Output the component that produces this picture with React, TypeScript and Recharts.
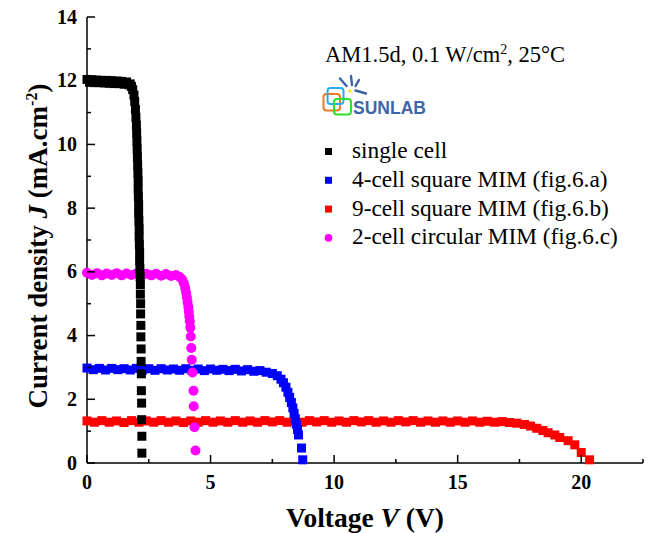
import { Legend, Scatter, ScatterChart, XAxis, YAxis } from 'recharts'

const W = 649
const H = 533
const SERIF = '"Liberation Serif", "Times New Roman", serif'
const SANS = '"Liberation Sans", Arial, sans-serif'

// [V (V), J (mA/cm2)]
const singleCell: [number, number][] = [
  [0, 12.04], [0.1, 11.95], [0.2, 12.03], [0.3, 11.94], [0.4, 12.02], [0.5, 11.94],
  [0.6, 12.01], [0.7, 11.93], [0.8, 12.01], [0.9, 11.92], [1.0, 12.0], [1.1, 11.91],
  [1.2, 11.99], [1.3, 11.91], [1.4, 11.98], [1.5, 11.89], [1.6, 11.96], [1.7, 11.87],
  [1.75, 11.9], [1.8, 11.82], [1.85, 11.72], [1.9, 11.55], [1.93, 11.35], [1.96, 11.1],
  [1.98, 10.85], [2.0, 10.6], [2.01, 10.35], [2.02, 10.1], [2.03, 9.85], [2.04, 9.6],
  [2.05, 9.35], [2.06, 9.1], [2.07, 8.85], [2.07, 8.6], [2.08, 8.35], [2.09, 8.1],
  [2.09, 7.85], [2.1, 7.6], [2.11, 7.35], [2.11, 7.1], [2.12, 6.85], [2.13, 6.6],
  [2.13, 6.35], [2.14, 6.1], [2.15, 5.85], [2.16, 5.6], [2.16, 5.3], [2.17, 5.0],
  [2.17, 4.68], [2.18, 4.32], [2.18, 3.96], [2.19, 3.58], [2.19, 3.19], [2.2, 2.8],
  [2.2, 2.27], [2.21, 1.88], [2.21, 1.36], [2.22, 0.84], [2.22, 0.31],
]

const square4: [number, number][] = [
  [0, 2.98], [0.25, 2.93], [0.5, 2.97], [0.75, 2.92], [1.0, 2.97], [1.25, 2.93],
  [1.5, 2.96], [1.75, 2.92], [2.0, 2.97], [2.25, 2.92], [2.5, 2.96], [2.75, 2.91],
  [3.0, 2.96], [3.25, 2.92], [3.5, 2.95], [3.75, 2.91], [4.0, 2.96], [4.25, 2.91],
  [4.5, 2.95], [4.75, 2.9], [5.0, 2.95], [5.25, 2.91], [5.5, 2.94], [5.75, 2.9],
  [6.0, 2.94], [6.25, 2.89], [6.5, 2.93], [6.75, 2.88], [7.0, 2.9], [7.25, 2.85],
  [7.5, 2.81], [7.7, 2.74], [7.85, 2.63], [7.95, 2.52], [8.05, 2.38], [8.13, 2.22],
  [8.2, 2.06], [8.27, 1.9], [8.33, 1.73], [8.38, 1.56], [8.43, 1.39], [8.47, 1.22],
  [8.52, 1.05], [8.56, 0.88], [8.68, 0.47], [8.73, 0.1],
]

const square9: [number, number][] = [
  [0, 1.32], [0.3, 1.28], [0.6, 1.33], [0.9, 1.28], [1.2, 1.32], [1.5, 1.27],
  [1.8, 1.33], [2.1, 1.28], [2.4, 1.32], [2.7, 1.28], [3.0, 1.33], [3.3, 1.28],
  [3.6, 1.32], [3.9, 1.27], [4.2, 1.32], [4.5, 1.28], [4.8, 1.33], [5.1, 1.28],
  [5.4, 1.32], [5.7, 1.28], [6.0, 1.33], [6.3, 1.28], [6.6, 1.32], [6.9, 1.28],
  [7.2, 1.33], [7.5, 1.29], [7.8, 1.33], [8.1, 1.28], [8.4, 1.32], [8.7, 1.28],
  [9.0, 1.33], [9.3, 1.29], [9.6, 1.33], [9.9, 1.28], [10.2, 1.32], [10.5, 1.28],
  [10.8, 1.33], [11.1, 1.29], [11.4, 1.33], [11.7, 1.28], [12.0, 1.32], [12.3, 1.28],
  [12.6, 1.33], [12.9, 1.29], [13.2, 1.33], [13.5, 1.28], [13.8, 1.32], [14.1, 1.28],
  [14.4, 1.32], [14.7, 1.28], [15.0, 1.32], [15.3, 1.28], [15.6, 1.32], [15.9, 1.28],
  [16.2, 1.31], [16.5, 1.28], [16.8, 1.3], [17.1, 1.27], [17.4, 1.25], [17.7, 1.21],
  [17.95, 1.16], [18.2, 1.09], [18.45, 1.02], [18.66, 0.95], [18.93, 0.88], [19.13, 0.8],
  [19.47, 0.7], [19.74, 0.57], [20.0, 0.33], [20.34, 0.1],
]

const circular2: [number, number][] = [
  [0, 5.97], [0.2, 5.9], [0.4, 5.96], [0.6, 5.89], [0.8, 5.95], [1.0, 5.9],
  [1.2, 5.96], [1.4, 5.89], [1.6, 5.95], [1.8, 5.9], [2.0, 5.95], [2.2, 5.88],
  [2.4, 5.94], [2.6, 5.89], [2.8, 5.94], [3.0, 5.88], [3.2, 5.93], [3.4, 5.87],
  [3.6, 5.9], [3.75, 5.84], [3.85, 5.76], [3.92, 5.64], [3.97, 5.5], [4.01, 5.35],
  [4.04, 5.2], [4.07, 5.05], [4.1, 4.9], [4.12, 4.75], [4.14, 4.6], [4.16, 4.45],
  [4.18, 4.25], [4.2, 3.97], [4.22, 3.61], [4.24, 3.24], [4.27, 2.84], [4.31, 2.27],
  [4.32, 1.78], [4.35, 1.12], [4.39, 0.39],
]

const X_TICKS = [0, 2.5, 5, 7.5, 10, 12.5, 15, 17.5, 20, 22.5]
const X_LABELS = [0, 5, 10, 15, 20]
const Y_TICKS = [0, 1, 2, 3, 4, 5, 6, 7, 8, 9, 10, 11, 12, 13, 14]
const Y_LABELS = [0, 2, 4, 6, 8, 10, 12, 14]

const LEGEND_ORDER = [
  'single cell',
  '4-cell square MIM (fig.6.a)',
  '9-cell square MIM (fig.6.b)',
  '2-cell circular MIM (fig.6.c)',
]

const toPoints = (rows: [number, number][]) => rows.map(([v, j]) => ({ v, j }))

const MAJOR = 8
const MINOR = 4
const AXIS_W = 1.5

function squareShape(size: number) {
  return (props: any) => (
    <rect x={props.cx - size / 2} y={props.cy - size / 2} width={size} height={size} fill={props.fill} />
  )
}

function circleShape(size: number) {
  return (props: any) => <circle cx={props.cx} cy={props.cy} r={size / 2} fill={props.fill} />
}

function BottomTick(props: any) {
  const { x, y, payload } = props
  const major = X_LABELS.includes(payload.value)
  return (
    <g>
      <line x1={x} y1={y} x2={x} y2={y - (major ? MAJOR : MINOR)} stroke="#000" strokeWidth={AXIS_W} />
      {major && (
        <text x={x} y={y + 26} textAnchor="middle" fontFamily={SERIF} fontWeight="bold" fontSize={20} fill="#000">
          {payload.value}
        </text>
      )}
    </g>
  )
}

function TopTick(props: any) {
  const { x, y, payload } = props
  const major = X_LABELS.includes(payload.value)
  return <line x1={x} y1={y} x2={x} y2={y + (major ? MAJOR : MINOR)} stroke="#000" strokeWidth={AXIS_W} />
}

function LeftTick(props: any) {
  const { x, y, payload } = props
  const major = Y_LABELS.includes(payload.value)
  return (
    <g>
      <line x1={x} y1={y} x2={x + (major ? MAJOR : MINOR)} y2={y} stroke="#000" strokeWidth={AXIS_W} />
      {major && (
        <text x={x - 10} y={y + 6.5} textAnchor="end" fontFamily={SERIF} fontWeight="bold" fontSize={20} fill="#000">
          {payload.value}
        </text>
      )}
    </g>
  )
}

function RightTick(props: any) {
  const { x, y, payload } = props
  const major = Y_LABELS.includes(payload.value)
  return <line x1={x} y1={y} x2={x - (major ? MAJOR : MINOR)} y2={y} stroke="#000" strokeWidth={AXIS_W} />
}

function SunlabLogo() {
  return (
    <g>
      <rect x={323.5} y={94} width={16.5} height={16.5} rx={3} fill="none" stroke="#f07a2a" strokeWidth={2} />
      <rect x={327.5} y={88} width={16} height={16} rx={3} fill="none" stroke="#2aaaf2" strokeWidth={2} />
      <rect x={334} y={99} width={17} height={15.5} rx={3} fill="none" stroke="#2ee02e" strokeWidth={2} />
      <circle cx={350} cy={91} r={1.6} fill="#ffe000" />
      <g stroke="#3a62a8" strokeWidth={2.4} strokeLinecap="round">
        <line x1={340} y1={78.5} x2={346.5} y2={86} />
        <line x1={351} y1={76} x2={352} y2={85} />
        <line x1={359} y1={80} x2={355.5} y2={86} />
        <line x1={355.5} y1={90.5} x2={366} y2={93.5} />
      </g>
      <text x={353} y={113.5} fontFamily={SANS} fontWeight="bold" fontSize={17.5} fill="#3e66aa">
        SUNLAB
      </text>
    </g>
  )
}

function renderLegend(props: any) {
  const items = [...(props.payload ?? [])].sort(
    (a: any, b: any) => LEGEND_ORDER.indexOf(a.value) - LEGEND_ORDER.indexOf(b.value),
  )
  return (
    <svg width={W} height={H} style={{ display: 'block' }}>
      <text x={325} y={61.5} fontFamily={SERIF} fontSize={22.5} fill="#000">
        AM1.5d, 0.1 W/cm
        <tspan dy={-8} fontSize={14}>2</tspan>
        <tspan dy={8}>, 25°C</tspan>
      </text>
      <SunlabLogo />
      {items.map((it: any, i: number) => {
        const cy = 151.5 + i * 28.8
        return (
          <g key={it.value}>
            {it.type === 'circle' ? (
              <circle cx={328.5} cy={cy} r={3.8} fill={it.color} />
            ) : (
              <rect x={325} y={cy - 3.5} width={7} height={7} fill={it.color} />
            )}
            <text x={352} y={cy + 6.5} fontFamily={SERIF} fontSize={23.3} fill="#000">
              {it.value}
            </text>
          </g>
        )
      })}
    </svg>
  )
}

export default function App() {
  return (
    <div style={{ position: 'absolute', left: 0, top: 0, width: W, height: H, background: '#fff' }}>
      <ScatterChart width={W} height={H} margin={{ top: 17, right: 6, bottom: 0, left: 0 }}>
        <XAxis
          dataKey="v"
          type="number"
          domain={[0, 22.5]}
          ticks={X_TICKS}
          interval={0}
          height={70}
          tickSize={0}
          tickMargin={0}
          tickLine={false}
          axisLine={{ stroke: '#000', strokeWidth: AXIS_W }}
          tick={(p: any) => <BottomTick {...p} />}
          label={{
            content: (lp: any) => {
              const vb = lp.viewBox
              return (
                <text x={vb.x + vb.width / 2} y={vb.y + 64} textAnchor="middle" fontFamily={SERIF} fontWeight="bold" fontSize={27.5} fill="#000">
                  Voltage <tspan fontStyle="italic">V</tspan> (V)
                </text>
              )
            },
          }}
        />
        <XAxis
          xAxisId="top"
          orientation="top"
          type="number"
          domain={[0, 22.5]}
          ticks={X_TICKS}
          interval={0}
          height={0}
          tickSize={0}
          tickMargin={0}
          tickLine={false}
          axisLine={{ stroke: '#000', strokeWidth: AXIS_W }}
          tick={(p: any) => <TopTick {...p} />}
        />
        <YAxis
          dataKey="j"
          type="number"
          domain={[0, 14]}
          ticks={Y_TICKS}
          interval={0}
          width={87}
          tickSize={0}
          tickMargin={0}
          tickLine={false}
          axisLine={{ stroke: '#000', strokeWidth: AXIS_W }}
          tick={(p: any) => <LeftTick {...p} />}
          label={{
            content: (lp: any) => {
              const vb = lp.viewBox
              const cx = vb.x + 47
              const cy = vb.y + vb.height / 2 + 6
              return (
                <text
                  x={cx}
                  y={cy}
                  transform={`rotate(-90, ${cx}, ${cy})`}
                  textAnchor="middle"
                  fontFamily={SERIF}
                  fontWeight="bold"
                  fontSize={27}
                  fill="#000"
                >
                  Current density <tspan fontStyle="italic">J</tspan> (mA.cm
                  <tspan dy={-10} fontSize={16}>-2</tspan>
                  <tspan dy={10}>)</tspan>
                </text>
              )
            },
          }}
        />
        <YAxis
          yAxisId="right"
          orientation="right"
          type="number"
          domain={[0, 14]}
          ticks={Y_TICKS}
          interval={0}
          width={0}
          tickSize={0}
          tickMargin={0}
          tickLine={false}
          axisLine={{ stroke: '#000', strokeWidth: AXIS_W }}
          tick={(p: any) => <RightTick {...p} />}
        />
        <Scatter
          name="9-cell square MIM (fig.6.b)"
          data={toPoints(square9)}
          fill="#ff0000"
          legendType="square"
          shape={squareShape(9)}
          isAnimationActive={false}
        />
        <Scatter
          name="4-cell square MIM (fig.6.a)"
          data={toPoints(square4)}
          fill="#0000ff"
          legendType="square"
          shape={squareShape(9)}
          isAnimationActive={false}
        />
        <Scatter
          name="2-cell circular MIM (fig.6.c)"
          data={toPoints(circular2)}
          fill="#ff00ff"
          legendType="circle"
          shape={circleShape(10)}
          isAnimationActive={false}
        />
        <Scatter
          name="single cell"
          data={toPoints(singleCell)}
          fill="#000000"
          legendType="square"
          shape={squareShape(9)}
          isAnimationActive={false}
        />
        <Legend
          layout="vertical"
          align="center"
          verticalAlign="middle"
          content={renderLegend}
          wrapperStyle={{ left: 0, top: 0, width: W, height: H, pointerEvents: 'none' }}
        />
      </ScatterChart>
    </div>
  )
}
